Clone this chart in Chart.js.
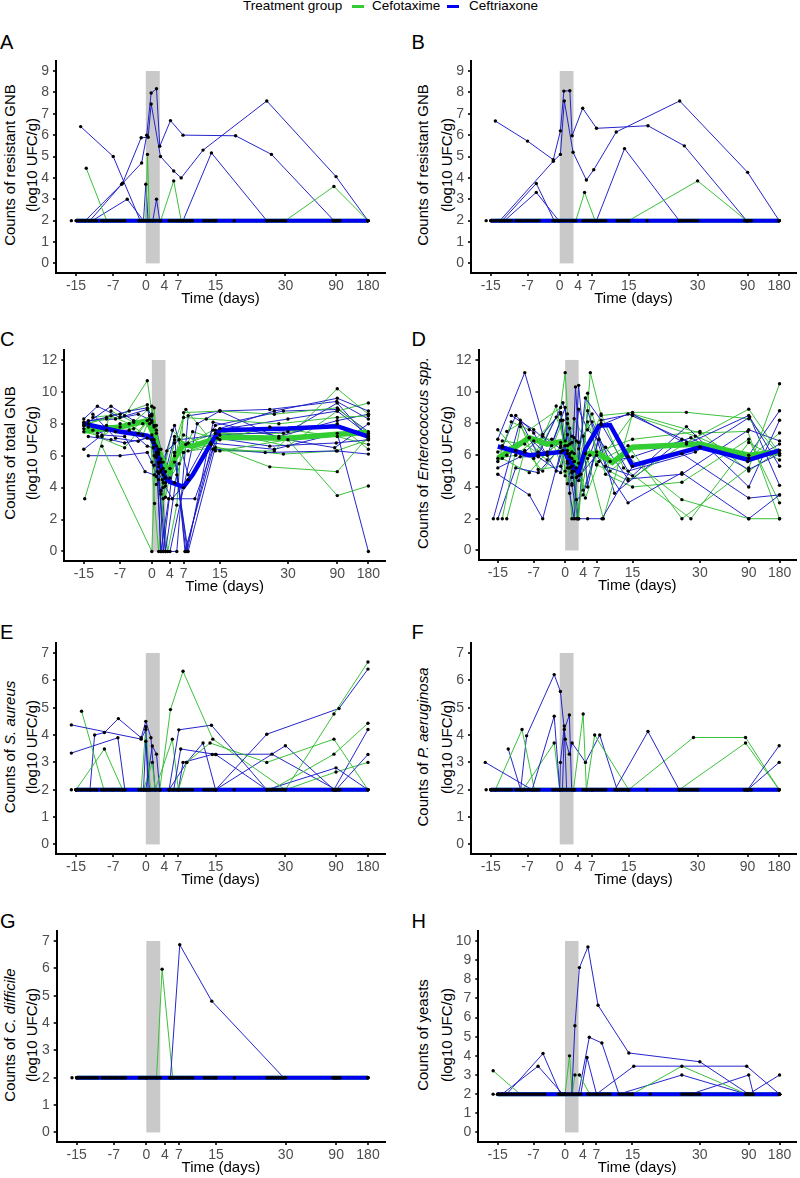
<!DOCTYPE html>
<html>
<head>
<meta charset="utf-8">
<script src="https://cdn.jsdelivr.net/npm/chart.js@4.4.0/dist/chart.umd.min.js"></script>
<style>
body { margin: 0; background: #fff; font-family: "Liberation Sans", Arial, sans-serif; }
#page { position: relative; width: 800px; height: 1178px; overflow: hidden; }
canvas { position: absolute; }
.letter { position: absolute; font-size: 20px; line-height: 20px; color: #000; }
.ytitle { position: absolute; white-space: nowrap; font-size: 15px; line-height: 15px; color: #000;
          transform: translate(-50%, -50%) rotate(-90deg); }
.leg { position: absolute; top: -1px; font-size: 13.5px; line-height: 13.5px; white-space: nowrap; color: #000; }
.sw { position: absolute; top: 5px; height: 3px; width: 12px; }
</style>
</head>
<body>
<div id="page">
  <span class="leg" style="left:243px">Treatment group</span>
  <div class="sw" style="left:352px;background:rgb(50,205,50)"></div>
  <span class="leg" style="left:372px">Cefotaxime</span>
  <div class="sw" style="left:447px;background:rgb(0,0,240)"></div>
  <span class="leg" style="left:469px">Ceftriaxone</span>
</div>
<script>
// x axis: days, linear up to day 30 then log-compressed
const dayTicks = [-15, -7, 0, 4, 7, 15, 30, 90, 180]
const treatmentDays = [0, 3]
const ticks0to7 = [0, 1, 2, 3, 4, 5, 6, 7]
const ticks0to9 = [0, 1, 2, 3, 4, 5, 6, 7, 8, 9]
const ticks0to10 = [0, 1, 2, 3, 4, 5, 6, 7, 8, 9, 10]
const ticks0to12 = [0, 1, 2, 3, 4, 5, 6, 7, 8, 9, 10, 11, 12]

// sampling days where counts sit at the detection limit (2)
const floorDays = [-16, -15, -14.5, -14, -13.5, -13, -12.5, -12, -11.5, -11, -10.5, -9.5, -9, -8.5, -8, -7.5, -7,
  -6.5, -6, -5.5, -5, -4.5, -1.5, -1, -0.5, 0, 0.5, 1, 1.5, 2, 2.5, 3, 5, 5.5, 6, 6.5, 7, 7.5, 8, 8.5, 9, 9.5, 10,
  12.5, 13, 13.5, 14, 14.5, 15, 19, 26, 26.5, 27, 27.5, 28, 28.5, 29, 29.5, 30, 84, 86, 88, 90, 92, 95, 98, 180]
const floorMedDays = [-15, -7, 0, 1, 2, 3, 4, 7, 15, 30, 90, 180]
const floorMedVals = [2, 2, 2, 2, 2, 2, 2, 2, 2, 2, 2, 2]

// A - resistant GNB
const aBlue = [
  [[-14,6.4],[-7,5.0],[-1.2,2],[0,2],[3,2],[7,2],[15,2],[30,2],[90,2],[180,2]],
  [[-13,2],[-5,3.75],[-1,5.88],[0.5,5.9],[1.15,7.46],[3.15,5.0],[6,4.32],[7.6,4.0],[12.3,5.3],[26,7.6],[90,4.06],[180,2]],
  [[-12,2],[-5.2,3.7],[-0.9,4.7],[0.2,6.0],[1.15,7.97],[2.3,8.17],[3,5.48],[5.3,6.68],[8,6.0],[19.3,5.97],[27,5.1],[86,2],[180,2]],
  [[-11.5,2],[-4,3.0],[-0.5,2],[0,3.7],[0.5,2],[1.5,2],[2.3,3.0],[3,2],[8,2],[14.1,5.17],[26,2],[90,2],[180,2]]
]
const aGreen = [
  [[-12.8,4.45],[-8.4,2],[-1,2],[0,2],[0.36,5.1],[0.8,2],[3.2,2],[6,3.86],[7.6,2],[15,2],[30,2],[86,3.6],[180,2]]
]

// B - resistant GNB
const bBlue = [
  [[-14,6.66],[-7,5.72],[-1.4,4.85],[0.15,6.2],[0.9,8.06],[2.2,8.08],[2.7,5.97],[5,7.26],[8,6.32],[19.2,6.44],[27.1,5.5],[88,2],[180,2]],
  [[-13,2],[-1.4,4.78],[0.15,5.1],[1,7.6],[2.9,5.2],[5.8,3.9],[7.4,4.38],[12.3,6.15],[26.1,7.6],[90,4.26],[180,2]],
  [[-12.5,2],[-5.1,3.74],[-1.2,2],[0,2],[3,2],[7,2],[15,2],[90,2],[180,2]],
  [[-12,2],[-5.1,3.32],[-0.2,2],[3,2],[8,2],[14.1,5.37],[26,2],[90,2],[180,2]]
]
const bGreen = [
  [[-15,2],[0,2],[3.5,2],[5.4,3.32],[7.7,2],[15,2],[30,3.86],[88,2],[180,2]]
]

// C - total GNB
const cBlue = [
  [[-15,8.3],[-12,9.1],[-7,8.4],[-1,8.9],[0,8.5],[1,6.0],[2,0],[3.7,3.3],[9.5,3.3],[15,7.7],[27,8.8],[90,9.6],[180,8.8]],
  [[-15,8.1],[-10,8.4],[-5,8.8],[-1,9.0],[0.5,7.0],[1.5,5.3],[2.5,0],[5,6.2],[7.5,0],[14,7.6],[30,8.3],[90,8.8],[180,7.3]],
  [[-15,7.9],[-9,9.1],[-4,8.2],[-0.5,8.0],[0.5,6.0],[1.5,4.5],[3,0],[5.5,4.8],[8,0],[14.5,7.1],[26,6.6],[88,6.8],[180,7.0]],
  [[-14,6.0],[-7,6.0],[-1,6.2],[0,5.6],[1,4.7],[2,3.8],[3,5.0],[5,7.2],[7.3,0],[13.5,6.4],[25,6.2],[90,6.3],[180,6.1]],
  [[-15,6.4],[-11,7.3],[-6,7.2],[-1.5,5.0],[0.5,4.8],[1.5,5.5],[2.5,4.3],[4.5,3.3],[8,4.5],[13,6.8],[27,6.4],[90,7.4],[180,0]],
  [[-13,8.6],[-8,7.1],[-3,6.9],[0,7.3],[1,5.9],[2,5.1],[3,4.1],[5,6.0],[7.8,0],[13.5,8.1],[28,7.2],[90,8.2],[180,8.6]],
  [[-14,7.2],[-9,7.0],[-6,6.8],[-1,7.1],[0.5,6.8],[1.5,6.4],[2.5,5.6],[5,7.9],[8,4.8],[14,7.9],[29,8.8],[92,8.9],[180,7.5]],
  [[-12,7.4],[-7,7.8],[-2,8.0],[0,8.1],[1,6.2],[2,0],[4,0],[7,4.0],[10,8.0],[15,8.8],[28,7.1],[85,6.5],[180,8.0]],
  [[-15,7.7],[-10,7.6],[-5,7.6],[-1,6.6],[0.3,6.5],[1.3,5.0],[2.3,4.5],[3.3,6.3],[6,7.0],[15,7.3],[30,7.5],[90,9.3],[180,7.1]],
  [[-14,8.2],[-8,8.3],[-3,8.6],[0,8.2],[1,7.6],[2,6.4],[3,0],[5.5,0],[8,8.5],[15,8.8],[26,8.9],[89,9.4],[180,8.3]]
]
const cGreen = [
  [[-14.8,3.3],[-9,8.8],[-4,8.1],[0,9.1],[1,7.4],[2,5.0],[3,4.3],[5,5.6],[7,8.4],[12,8.3],[28,8.0],[90,8.4],[180,8.5]],
  [[-15,8.0],[-10,8.3],[-6,8.5],[-1,10.7],[0.5,7.8],[1.5,6.2],[2.5,4.0],[4,5.2],[7,7.3],[14,6.3],[27,6.3],[90,10.2],[180,8.6]],
  [[-11,6.6],[0,0],[1,7.9],[2,5.8],[3,4.6],[5,4.3],[7,6.2],[13,6.7],[26,5.3],[90,5.0],[180,7.2]],
  [[-13,7.6],[-8,7.5],[-3,7.4],[-0.5,8.3],[0.6,3.0],[1.5,0],[3,4.6],[5,6.8],[7.5,8.9],[15,6.3],[30,7.0],[90,3.5],[180,4.1]],
  [[-15,7.5],[-11,7.2],[-7,8.0],[-2,7.3],[0,8.6],[1,6.6],[2,5.6],[3,3.4],[5,6.2],[8,6.3],[14,6.5],[29,6.1],[88,6.3],[180,7.0]],
  [[-14,8.0],[-9,8.5],[-5,8.0],[0,7.0],[1,4.2],[2,3.6],[3.5,0],[5.5,2.9],[7,8.7],[15,8.8],[27,8.6],[90,9.0],[180,7.4]],
  [[-15,7.9],[-12,7.2],[-6,6.5],[-1,8.2],[0.5,9.0],[1.5,5.6],[2.5,4.8],[4.5,7.6],[7.5,6.7],[13.5,7.6],[30,6.6],[90,8.8],[180,9.3]],
  [[-13,8.4],[-7,8.6],[-1,9.2],[0.5,7.9],[1.5,6.1],[2.5,5.2],[4,4.6],[6,5.5],[9,7.5],[15,7.0],[26,7.8],[90,7.2],[180,6.7]],
  [[-14,7.8],[-10,7.9],[-4,7.7],[-0.5,8.5],[0.5,5.4],[1.5,4.9],[2.5,3.3],[5,7.0],[8,6.8],[14,7.4],[29,7.4],[90,8.0],[180,6.4]]
]
const cMedBlue = [[-15,8.0],[-7,7.5],[-1,7.25],[0,7.1],[1,6.4],[2,5.3],[3,4.6],[4,4.35],[7,4.05],[9,4.8],[13.5,7.0],[15,7.6],[30,7.7],[90,7.85],[180,7.2]]
const cMedGreen = [[-15,7.55],[-7,7.8],[-1,8.2],[0,7.6],[1,6.8],[2,6.0],[3,5.3],[4,5.0],[5,5.8],[7,6.7],[9,6.6],[15,7.15],[30,7.1],[90,7.35],[180,7.45]]

// D - Enterococcus
const dBlue = [
  [[-15,7.0],[-9,11.2],[-5,7.3],[-1,8.7],[0.5,5.2],[1.5,6.2],[2.5,4.6],[4.5,9.6],[8,8.2],[15,8.6],[27,6.7],[90,8.5],[180,5.3]],
  [[-16,2],[-10,8.2],[-6,6.0],[-0.5,9.3],[0.5,8.3],[1.5,4.9],[2.3,10.3],[3.5,4.8],[7,6.0],[14,3.0],[26,4.9],[90,2.0],[180,3.5]],
  [[-15,4.8],[-8,3.5],[-5,2.0],[-1,6.2],[0.5,6.1],[1.5,5.3],[3,2.0],[5,2.0],[8.2,2.0],[15,5.3],[26,6.1],[90,3.3],[180,3.5]],
  [[-14,6.5],[-11,8.5],[-7,7.4],[-2,5.0],[0,6.9],[1,7.7],[2,5.0],[3,10.4],[5,4.0],[8,7.9],[14,8.6],[30,6.5],[90,6.0],[180,8.8]],
  [[-15,5.2],[-10,5.9],[-6,5.9],[-1,4.9],[0.5,7.3],[1.5,5.8],[2.5,3.2],[4,3.5],[7.5,7.0],[11,3.6],[26,7.0],[88,5.6],[180,6.7]],
  [[-13,6.0],[-8,7.1],[-4,6.0],[-1,8.2],[0.5,5.5],[1.5,4.1],[2.8,2.0],[5,8.8],[9,5.3],[15,4.7],[27,7.8],[90,4.0],[180,8.2]],
  [[-14,6.6],[-9,6.2],[-5,7.2],[-0.5,6.3],[1,5.2],[2,5.6],[3,4.4],[5.5,6.0],[8,8.0],[14,5.0],[29,6.2],[92,8.4],[180,4.1]],
  [[-12,8.5],[-7,7.6],[-3,6.6],[0,9.0],[1,3.6],[2,2.0],[3,6.8],[6,8.1],[10,5.6],[15,5.9],[28,7.1],[90,5.1],[180,6.1]],
  [[-15,2.0],[-11,5.2],[-6,4.9],[-1,6.5],[0.5,8.0],[1.5,4.6],[3,8.9],[5,7.6],[9,6.5],[14,4.5],[26,4.8],[90,7.6],[180,6.9]]
]
const dGreen = [
  [[-15,5.6],[-12,8.1],[-8,7.6],[-1,9.0],[0,11.2],[1,6.1],[2,5.6],[3,2.0],[5.6,11.2],[8,8.5],[15,8.7],[27,8.7],[90,8.3],[180,6.0]],
  [[-14,2.0],[-10,7.8],[-6,6.2],[-2,8.4],[0.5,6.6],[1.5,5.0],[2.5,6.9],[4.5,3.3],[7.5,5.6],[14,6.6],[26,2.0],[90,5.2],[180,10.5]],
  [[-13,2.0],[-9,6.3],[-5,5.0],[-1,6.6],[0.5,4.2],[1.5,7.2],[2.5,2.0],[5,5.8],[8.5,2.0],[15,8.6],[30,7.4],[88,7.5],[180,2.0]],
  [[-15,5.8],[-11,6.0],[-7,6.9],[-1,8.6],[0,5.0],[1,6.7],[2,8.3],[4,7.2],[7,5.4],[14,4.4],[27,6.8],[90,8.9],[180,6.1]],
  [[-14,6.9],[-9,6.7],[-4,5.7],[-0.5,8.2],[0.5,6.3],[1.5,4.2],[3,5.5],[5,8.1],[9,4.8],[15,4.0],[26,4.3],[90,7.0],[180,3.0]],
  [[-15,6.2],[-8,7.1],[-3,7.0],[0,4.7],[1,5.2],[2,7.1],[3,4.7],[4.5,6.1],[8,8.6],[13,5.2],[28,2.0],[90,6.8],[180,5.7]],
  [[-13,7.5],[-10,8.0],[-6,5.1],[-1,5.3],[0.5,8.6],[1.5,6.8],[2.5,5.2],[5,9.9],[7,5.4],[15,8.5],[29,7.2],[90,5.8],[180,7.4]],
  [[-15,7.6],[-11,6.3],[-7,5.8],[-2,9.1],[0.5,5.6],[1.5,2.0],[3,6.4],[6,8.6],[10,5.0],[14,5.9],[26,3.2],[90,2.0],[180,2.0]],
  [[-14,5.8],[-8,4.9],[-4,6.2],[-1,6.8],[0,6.6],[1,5.9],[2,6.1],[4,3.8],[7,6.2],[15,7.0],[30,7.5],[90,5.0],[180,6.3]]
]
const dMedBlue = [[-15,6.55],[-8,6.0],[-1,6.2],[0,6.2],[1,5.6],[2,5.2],[3,4.95],[4.5,6.4],[7.5,7.85],[10,7.9],[15,5.35],[30,6.5],[90,5.7],[180,6.3]]
const dMedGreen = [[-15,5.8],[-8,7.1],[-4,6.7],[-1,6.85],[0,6.8],[1,6.5],[2,5.9],[3,5.15],[4.5,6.1],[7.5,6.1],[10.5,5.55],[15,6.5],[30,6.7],[90,6.0],[180,6.2]]

// E - S. aureus
const eBlue = [
  [[-16,4.37],[-1,3.85],[0,4.2],[0.5,2],[5,2],[7.1,4.19],[14.1,4.36],[26,2],[90,2],[180,3.29]],
  [[-16,3.34],[-6,3.9],[-4.5,2],[-0.5,2],[0,3.77],[0.8,2],[6,2],[7.5,3.49],[15,3.29],[26,2],[90,2.8],[180,2]],
  [[-12,2],[-11,4.0],[-8.9,4.09],[-5.9,4.6],[-1,3.9],[0,4.5],[1.1,3.9],[2,2],[5,2],[8.8,3.0],[12.3,3.71],[15,2],[30,3.61],[86,2],[180,4.2]],
  [[-15,2],[0,2],[3,2],[15,2],[26,4.03],[96,4.97],[180,6.41]],
  [[-15,2],[-7,2],[0,2],[1.4,3.6],[2.3,3.3],[3,2],[7,2],[8,3.0],[14.3,3.29],[15.1,3.29],[27.1,3.3],[90,2],[180,2]]
]
const eGreen = [
  [[-13.8,4.87],[-9,2],[-1,2],[0,4.3],[1,2],[3,2],[5.3,4.93],[8,6.33],[14.4,3.85],[30,2],[86,4.77],[180,6.67]],
  [[-15,2],[-8.9,3.49],[-5,2],[-0.5,2],[1.4,3.0],[2,2],[5.7,3.85],[7,2],[8.8,3.0],[13.8,3.71],[26,3.0],[86,3.85],[180,2]],
  [[-15,2],[0,2],[3,2],[7,2],[15,2],[27,2],[86,3.3],[180,4.43]],
  [[-15,2],[0,2],[7,2],[15,2],[30,2],[90,2.65],[180,3.0]]
]

// F - P. aeruginosa
const fBlue = [
  [[-16.2,3.0],[-6,2],[-1.2,4.69],[0,2],[0.6,2],[1,4.2],[2.1,4.73],[2.6,2],[7,2],[12,2],[19.2,4.13],[26,2],[90,2],[180,3.61]],
  [[-11.2,3.49],[-8.5,2],[-7.2,3.97],[-1.2,6.21],[0.15,5.59],[1.2,3.85],[2.1,3.3],[2.7,3.71],[5.6,3.0],[8.7,4.0],[12.5,2],[30,2],[90,2],[180,3.0]],
  [[-15,2],[-5,2],[0,2],[0.15,3.0],[1,4.33],[1.5,2],[3,2],[7,2],[15,2],[90,2],[180,2]]
]
const fGreen = [
  [[-14,2],[-8.2,4.2],[-5.5,2],[0,2],[3,2],[5.1,4.77],[5.8,2],[7.6,4.0],[15,2],[26,2],[86,3.71],[180,2]],
  [[-15,2],[-8,2],[-1.2,3.71],[0,2],[3.3,2],[7,2],[15,2],[29.1,3.91],[86,3.91],[180,2]]
]

// G - C. difficile
const gBlue = [
  [[-15,2],[0,2],[5.2,2],[7.2,6.86],[14.1,4.8],[29.6,2],[90,2],[180,2]]
]
const gGreen = [
  [[-15,2],[0,2],[2.2,2],[3.4,5.97],[5.7,2],[15,2],[90,2],[180,2]]
]

// H - yeasts
const hBlue = [
  [[-15,2],[-1,2],[1.5,2],[2.2,5.57],[3.2,8.61],[5.1,9.69],[7.35,6.64],[14.2,4.15],[30,3.69],[90,2],[180,2]],
  [[-14,2],[-6,3.46],[-0.5,2],[3,2],[5.4,4.97],[8.2,4.67],[12,2],[26,3.0],[86,2],[180,2]],
  [[-13,2],[-4.9,4.12],[-1,2],[3.5,2],[4.9,3.91],[7,2],[15.3,3.46],[86,3.46],[180,2]],
  [[-14,2],[0,2],[15,2],[28,2],[90,3.0],[100,2],[180,2]],
  [[-15,2],[0,2],[90,2],[180,3.0]]
]
const hGreen = [
  [[-16,3.22],[-10,2],[0,2],[1,4.0],[1.6,2],[2.2,3.0],[3.2,3.0],[5.5,2],[15,2],[26,3.46],[86,2],[180,2]]
]

const FONT = '"Liberation Sans", Arial, sans-serif'
const GREEN_THIN = 'rgba(50,190,50,0.95)'
const BLUE_THIN = 'rgba(25,25,200,0.95)'
const GREEN_MED = 'rgb(50,205,50)'
const BLUE_MED = 'rgb(0,0,240)'
const X_MIN = -19.3, X_MAX = 51.4

function warp(d) { return d <= 30 ? d : 30 + 9.9 * Math.log(d / 30) }
function unwarp(t) { return t <= 30 ? t : 30 * Math.exp((t - 30) / 9.9) }

class DayScale extends Chart.LinearScale {
  determineDataLimits() { this.min = X_MIN; this.max = X_MAX }
  buildTicks() { return dayTicks.map(v => ({ value: v })) }
  getPixelForValue(v) { return super.getPixelForValue(warp(v)) }
  getValueForPixel(p) { return unwarp(super.getValueForPixel(p)) }
}
DayScale.id = 'day'
DayScale.defaults = {}
Chart.register(DayScale)

const shadePlugin = {
  id: 'shade',
  beforeDatasetsDraw(chart, args, opts) {
    const { ctx, scales: { x, y } } = chart
    const x0 = x.getPixelForValue(treatmentDays[0]), x1 = x.getPixelForValue(treatmentDays[1])
    const y0 = y.getPixelForValue(0), y1 = y.getPixelForValue(opts.top)
    ctx.save()
    ctx.fillStyle = '#c9c9c9'
    ctx.fillRect(x0, y1, x1 - x0, y0 - y1)
    ctx.restore()
  }
}

const panels = [
  { letter: 'A', col: 0, box: { left: 56, right: 385, top: 57.9, bottom: 272.5 }, yRange: [-0.45, 9.45], yTicks: ticks0to9,
    blue: aBlue, green: aGreen, floor: true, t1: 'Counts of resistant GNB', lt: 35 },
  { letter: 'B', col: 400, box: { left: 471, right: 799, top: 57.9, bottom: 272.5 }, yRange: [-0.45, 9.45], yTicks: ticks0to9,
    blue: bBlue, green: bGreen, floor: true, t1: 'Counts of resistant GNB', lt: 35 },
  { letter: 'C', col: 0, box: { left: 64.3, right: 385, top: 346.3, bottom: 560.4 }, yRange: [-0.6, 12.6], yTicks: ticks0to12,
    blue: cBlue, green: cGreen, medBlue: cMedBlue, medGreen: cMedGreen, t1: 'Counts of total GNB', lt: 332 },
  { letter: 'D', col: 400, box: { left: 478.5, right: 799.5, top: 346.3, bottom: 559.9 }, yRange: [-0.6, 12.6], yTicks: ticks0to12,
    blue: dBlue, green: dGreen, medBlue: dMedBlue, medGreen: dMedGreen, t1: 'Counts of <i>Enterococcus spp.</i>', lt: 332 },
  { letter: 'E', col: 0, box: { left: 56, right: 385, top: 639.2, bottom: 853.8 }, yRange: [-0.35, 7.35], yTicks: ticks0to7,
    blue: eBlue, green: eGreen, floor: true, t1: 'Counts of <i>S. aureus</i>', lt: 624.5 },
  { letter: 'F', col: 400, box: { left: 471, right: 799, top: 639.2, bottom: 853.8 }, yRange: [-0.35, 7.35], yTicks: ticks0to7,
    blue: fBlue, green: fGreen, floor: true, t1: 'Counts of <i>P. aeruginosa</i>', lt: 624.5 },
  { letter: 'G', col: 0, box: { left: 56.7, right: 385, top: 927.6, bottom: 1141.4 }, yRange: [-0.35, 7.35], yTicks: ticks0to7,
    blue: gBlue, green: gGreen, floor: true, t1: 'Counts of <i>C. difficile</i>', lt: 914 },
  { letter: 'H', col: 400, box: { left: 478.3, right: 799.5, top: 927.6, bottom: 1141.4 }, yRange: [-0.5, 10.5], yTicks: ticks0to10,
    blue: hBlue, green: hGreen, floor: true, t1: 'Counts of yeasts', lt: 914 }
]

const page = document.getElementById('page')
const toXY = s => s.map(([x, y]) => ({ x, y }))

function lineSet(series, color, width, order) {
  return { data: toXY(series), borderColor: color, borderWidth: width, pointRadius: 0, tension: 0, order: order, fill: false }
}

function addText(p) {
  const L = document.createElement('div')
  L.className = 'letter'
  L.textContent = p.letter
  L.style.left = (p.col === 0 ? 0 : 411.5) + 'px'
  L.style.top = (p.lt - 2.6) + 'px'
  page.appendChild(L)
  const mid = (p.box.top + p.box.bottom) / 2
  const t1 = document.createElement('div')
  t1.className = 'ytitle'
  t1.innerHTML = p.t1
  t1.style.left = (p.col === 0 ? 8.5 : 421.5) + 'px'
  t1.style.top = mid + 'px'
  page.appendChild(t1)
  const t2 = document.createElement('div')
  t2.className = 'ytitle'
  t2.textContent = '(log10 UFC/g)'
  t2.style.left = (p.col === 0 ? 31 : 445.5) + 'px'
  t2.style.top = mid + 'px'
  page.appendChild(t2)
}

function makePanel(p) {
  addText(p)
  const canvas = document.createElement('canvas')
  const top = Math.floor(p.box.top) - 8
  const h = Math.ceil(p.box.bottom + 35 - top)
  canvas.width = 400
  canvas.height = h
  canvas.style.left = p.col + 'px'
  canvas.style.top = top + 'px'
  page.appendChild(canvas)

  const datasets = []
  // dots on top of everything
  const dots = []
  p.green.concat(p.blue).forEach(s => s.forEach(pt => dots.push(pt)))
  if (p.floor) floorDays.forEach(d => dots.push([d, 2]))
  datasets.push({ data: toXY(dots), showLine: false, pointRadius: 1.7, pointBackgroundColor: '#000',
    pointBorderWidth: 0, order: 0 })

  if (p.floor) {
    const med = floorMedDays.map((d, i) => [d, floorMedVals[i]])
    datasets.push(lineSet(med, BLUE_MED, 4, 1))
    datasets.push(lineSet(med, GREEN_MED, 4, 2))
  } else {
    datasets.push(lineSet(p.medBlue, BLUE_MED, 4.5, 1))
    datasets.push(lineSet(p.medGreen, GREEN_MED, 5.5, 2))
  }
  const n = Math.max(p.blue.length, p.green.length)
  for (let i = 0; i < n; i++) {
    if (p.blue[i]) datasets.push(lineSet(p.blue[i], BLUE_THIN, 1, 3))
    if (p.green[i]) datasets.push(lineSet(p.green[i], GREEN_THIN, 1, 3))
  }

  const axisGrid = { display: true, drawOnChartArea: false, drawTicks: true, tickLength: 3, color: '#333', lineWidth: 2 }
  const axisBorder = { display: true, color: '#000', width: 2 }
  new Chart(canvas, {
    type: 'line',
    data: { datasets },
    options: {
      responsive: false,
      animation: false,
      events: [],
      layout: { padding: { top: p.box.top - top, right: p.col + 400 - p.box.right, bottom: 0, left: 0 } },
      plugins: { legend: { display: false }, tooltip: { enabled: false }, shade: { top: p.yTicks[p.yTicks.length - 1] } },
      scales: {
        x: {
          type: 'day',
          afterFit: s => { s.height = 35 },
          grid: axisGrid,
          border: axisBorder,
          ticks: { autoSkip: false, maxRotation: 0, color: '#4d4d4d', font: { size: 14, family: FONT }, padding: 1.5,
            callback: v => String(v) },
          title: { display: true, text: 'Time (days)', color: '#000', font: { size: 15, family: FONT }, padding: 0 }
        },
        y: {
          type: 'linear',
          min: p.yRange[0],
          max: p.yRange[1],
          afterBuildTicks: s => { s.ticks = p.yTicks.map(v => ({ value: v })) },
          afterFit: s => { s.width = p.box.left - p.col },
          grid: axisGrid,
          border: axisBorder,
          ticks: { color: '#4d4d4d', font: { size: 14, family: FONT }, padding: 4, callback: v => String(v) }
        }
      }
    },
    plugins: [shadePlugin]
  })
}

panels.forEach(makePanel)
</script>
</body>
</html>
